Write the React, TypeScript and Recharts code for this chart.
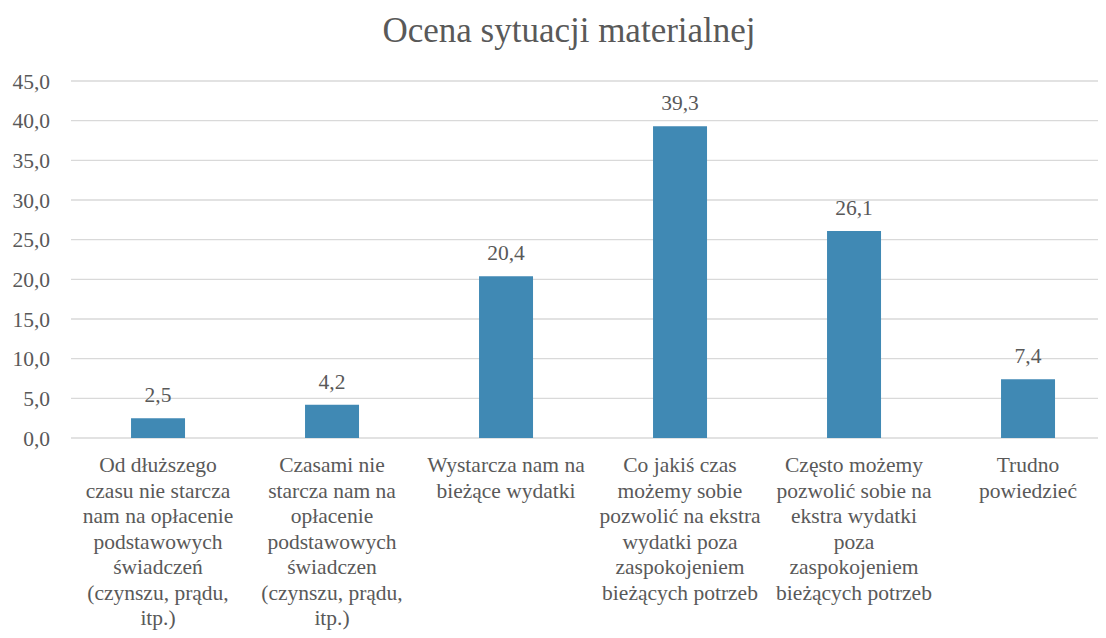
import React from "react";
import { BarChart, Bar, XAxis, YAxis, CartesianGrid, LabelList } from "recharts";

const categories: string[] = [
  "Od dłuższego\nczasu nie starcza\nnam na opłacenie\npodstawowych\nświadczeń\n(czynszu, prądu,\nitp.)",
  "Czasami nie\nstarcza nam na\nopłacenie\npodstawowych\nświadczen\n(czynszu, prądu,\nitp.)",
  "Wystarcza nam na\nbieżące wydatki",
  "Co jakiś czas\nmożemy sobie\npozwolić na ekstra\nwydatki poza\nzaspokojeniem\nbieżących potrzeb",
  "Często możemy\npozwolić sobie na\nekstra wydatki\npoza\nzaspokojeniem\nbieżących potrzeb",
  "Trudno\npowiedzieć",
];
const values: number[] = [2.5, 4.2, 20.4, 39.3, 26.1, 7.4];
const yTicks: number[] = [0, 5, 10, 15, 20, 25, 30, 35, 40, 45];

const data = categories.map((c, i) => ({ name: c, value: values[i] }));

const FONT = "Liberation Serif, Times New Roman, Tinos, DejaVu Serif, Noto Serif, serif";
const TEXT = "#595959";
const fmt = (v: number) => v.toFixed(1).replace(".", ",");

const CatTick = (props: any) => {
  const { x, y, payload } = props;
  const lines = String(payload.value).split("\n");
  return (
    <text x={x} y={y} textAnchor="middle" fill={TEXT} style={{ fontFamily: FONT }} fontSize={21.5}>
      {lines.map((l, i) => (
        <tspan key={i} x={x} dy={i === 0 ? 26 : 25.5}>
          {l}
        </tspan>
      ))}
    </text>
  );
};

export default function App() {
  return (
    <div style={{ margin: -8, width: 1106, height: 638, overflow: "hidden", position: "relative", background: "#fff" }}>
      <div
        style={{
          position: "absolute",
          top: 10,
          left: 0,
          width: 1138,
          textAlign: "center",
          fontFamily: FONT,
          fontSize: 35,
          color: TEXT,
          lineHeight: "42px",
        }}
      >
        Ocena sytuacji materialnej
      </div>
      <BarChart
        width={1115}
        height={638}
        data={data}
        margin={{ top: 81, right: 0, bottom: 0, left: 0 }}
        barCategoryGap="34.5%"
      >
        <CartesianGrid vertical={false} stroke="#d9d9d9" strokeWidth={1.3} />
        <XAxis
          dataKey="name"
          axisLine={false}
          tickLine={false}
          height={200}
          interval={0}
          tick={<CatTick />}
        />
        <YAxis
          domain={[0, 45]}
          ticks={yTicks}
          width={71}
          axisLine={false}
          tickLine={false}
          tickSize={0}
          tickMargin={21}
          tickFormatter={fmt}
          tick={{ fill: TEXT, style: { fontFamily: FONT }, fontSize: 21.5 }}
        />
        <Bar dataKey="value" fill="#4089B4" isAnimationActive={false}>
          <LabelList
            dataKey="value"
            position="top"
            offset={16}
            formatter={(v: any) => fmt(Number(v))}
            fill={TEXT}
            style={{ fontFamily: FONT }}
            fontSize={21.5}
          />
        </Bar>
      </BarChart>
    </div>
  );
}
